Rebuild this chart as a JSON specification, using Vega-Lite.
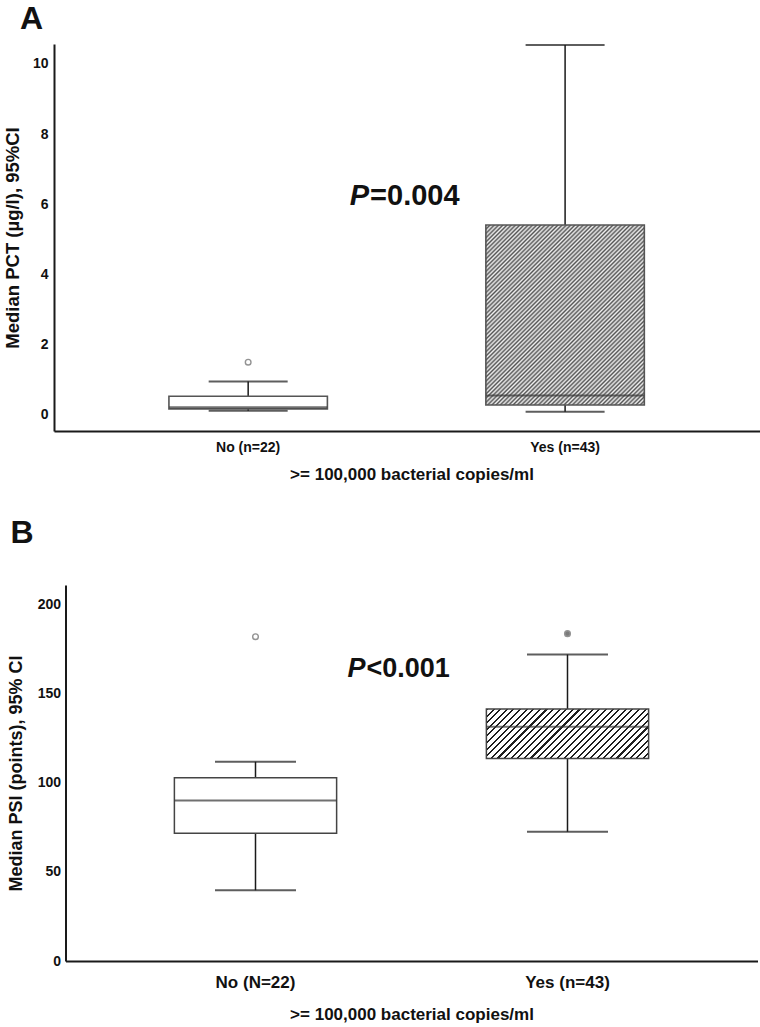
{
  "$schema": "https://vega.github.io/schema/vega-lite/v6.json",
  "background": "white",
  "padding": {"left": 3, "top": 3, "right": 4, "bottom": 2},
  "config": {
    "view": {"stroke": null},
    "font": "Liberation Sans",
    "axis": {"domainColor": "#1a1a1a", "domainWidth": 2, "ticks": false, "grid": false, "labelColor": "#111", "labelFontWeight": "bold", "titleFontWeight": "bold", "titleColor": "#111", "labelFont": "Liberation Sans", "titleFont": "Liberation Sans"},
    "title": {"fontSize": 32, "fontWeight": "bold", "anchor": "start", "frame": "group", "color": "#111", "font": "Liberation Sans"}
  },
  "datasets": {
    "boxA": [
      {"group": "No (n=22)", "lower": 0.12, "q1": 0.17, "median": 0.22, "q3": 0.53, "upper": 0.95},
      {"group": "Yes (n=43)", "lower": 0.09, "q1": 0.28, "median": 0.55, "q3": 5.41, "upper": 10.54}
    ],
    "outA": [{"group": "No (n=22)", "value": 1.5}],
    "pA": [{"group": "Yes (n=43)", "y": 6.25, "p": "P", "rest": "=0.004"}],
    "boxB": [
      {"group": "No (N=22)", "lower": 39.7, "q1": 71.7, "median": 90.1, "q3": 102.8, "upper": 111.8},
      {"group": "Yes (n=43)", "lower": 72.5, "q1": 113.7, "median": 131.5, "q3": 141.4, "upper": 172}
    ],
    "outB": [{"group": "No (N=22)", "value": 182}, {"group": "Yes (n=43)", "value": 183.7}],
    "pB": [{"group": "Yes (n=43)", "y": 164, "p": "P", "rest": "<0.001"}]
  },
  "spacing": 35,
  "center": true,
  "vconcat": [
    {
      "width": 715,
      "height": 387,
      "title": {"text": "A", "dx": -34, "offset": 8},
      "encoding": {
        "x": {"field": "group", "type": "nominal", "sort": null,
          "scale": {"type": "band", "paddingInner": 0, "paddingOuter": 0.128, "align": 0.44},
          "axis": {"title": ">= 100,000 bacterial copies/ml", "labelAngle": 0, "labelFontSize": 14, "titleFontSize": 17, "labelPadding": 9, "titlePadding": 12}}
      },
      "layer": [
        {
          "data": {"name": "boxA"},
          "mark": {"type": "rule", "stroke": "#1a1a1a", "strokeWidth": 1.5},
          "encoding": {
            "y": {"field": "lower", "type": "quantitative", "title": "Median PCT (µg/l), 95%CI",
              "scale": {"domain": [-0.46, 10.57], "nice": false, "zero": false},
              "axis": {"values": [0, 2, 4, 6, 8, 10], "labelFontSize": 14, "titleFontSize": 18.5, "labelPadding": 6, "titlePadding": 10}},
            "y2": {"field": "upper"}
          }
        },
        {
          "data": {"name": "boxA"},
          "mark": {"type": "tick", "color": "#1a1a1a", "size": 79, "thickness": 2},
          "encoding": {"y": {"field": "lower", "type": "quantitative", "title": "Median PCT (µg/l), 95%CI", "scale": {"domain": [-0.46, 10.57], "nice": false, "zero": false}}}
        },
        {
          "data": {"name": "boxA"},
          "mark": {"type": "tick", "color": "#1a1a1a", "size": 79, "thickness": 2},
          "encoding": {"y": {"field": "upper", "type": "quantitative", "title": "Median PCT (µg/l), 95%CI", "scale": {"domain": [-0.46, 10.57], "nice": false, "zero": false}}}
        },
        {
          "data": {"name": "boxA"},
          "transform": [{"filter": "datum.group === 'No (n=22)'"}],
          "mark": {"type": "bar", "fill": "white", "stroke": "#555", "strokeWidth": 1.6, "width": {"band": 0.5}},
          "encoding": {
            "y": {"field": "q1", "type": "quantitative", "title": "Median PCT (µg/l), 95%CI", "scale": {"domain": [-0.46, 10.57], "nice": false, "zero": false}},
            "y2": {"field": "q3"}
          }
        },
        {
          "data": {"name": "boxA"},
          "transform": [{"filter": "datum.group === 'Yes (n=43)'"}],
          "mark": {"type": "bar", "stroke": "#555", "strokeWidth": 1.6, "width": {"band": 0.5},
            "fill": {"gradient": "linear", "x1": 0, "y1": 0, "x2": 0.931, "y2": 1.061, "stops": [
              {"offset": 0, "color": "#555"}, {"offset": 0.00625, "color": "#f0f0f0"}, {"offset": 0.0125, "color": "#555"}, {"offset": 0.01875, "color": "#f0f0f0"}, {"offset": 0.025, "color": "#555"}, {"offset": 0.03125, "color": "#f0f0f0"}, {"offset": 0.0375, "color": "#555"}, {"offset": 0.04375, "color": "#f0f0f0"},
              {"offset": 0.05, "color": "#555"}, {"offset": 0.05625, "color": "#f0f0f0"}, {"offset": 0.0625, "color": "#555"}, {"offset": 0.06875, "color": "#f0f0f0"}, {"offset": 0.075, "color": "#555"}, {"offset": 0.08125, "color": "#f0f0f0"}, {"offset": 0.0875, "color": "#555"}, {"offset": 0.09375, "color": "#f0f0f0"},
              {"offset": 0.1, "color": "#555"}, {"offset": 0.10625, "color": "#f0f0f0"}, {"offset": 0.1125, "color": "#555"}, {"offset": 0.11875, "color": "#f0f0f0"}, {"offset": 0.125, "color": "#555"}, {"offset": 0.13125, "color": "#f0f0f0"}, {"offset": 0.1375, "color": "#555"}, {"offset": 0.14375, "color": "#f0f0f0"},
              {"offset": 0.15, "color": "#555"}, {"offset": 0.15625, "color": "#f0f0f0"}, {"offset": 0.1625, "color": "#555"}, {"offset": 0.16875, "color": "#f0f0f0"}, {"offset": 0.175, "color": "#555"}, {"offset": 0.18125, "color": "#f0f0f0"}, {"offset": 0.1875, "color": "#555"}, {"offset": 0.19375, "color": "#f0f0f0"},
              {"offset": 0.2, "color": "#555"}, {"offset": 0.20625, "color": "#f0f0f0"}, {"offset": 0.2125, "color": "#555"}, {"offset": 0.21875, "color": "#f0f0f0"}, {"offset": 0.225, "color": "#555"}, {"offset": 0.23125, "color": "#f0f0f0"}, {"offset": 0.2375, "color": "#555"}, {"offset": 0.24375, "color": "#f0f0f0"},
              {"offset": 0.25, "color": "#555"}, {"offset": 0.25625, "color": "#f0f0f0"}, {"offset": 0.2625, "color": "#555"}, {"offset": 0.26875, "color": "#f0f0f0"}, {"offset": 0.275, "color": "#555"}, {"offset": 0.28125, "color": "#f0f0f0"}, {"offset": 0.2875, "color": "#555"}, {"offset": 0.29375, "color": "#f0f0f0"},
              {"offset": 0.3, "color": "#555"}, {"offset": 0.30625, "color": "#f0f0f0"}, {"offset": 0.3125, "color": "#555"}, {"offset": 0.31875, "color": "#f0f0f0"}, {"offset": 0.325, "color": "#555"}, {"offset": 0.33125, "color": "#f0f0f0"}, {"offset": 0.3375, "color": "#555"}, {"offset": 0.34375, "color": "#f0f0f0"},
              {"offset": 0.35, "color": "#555"}, {"offset": 0.35625, "color": "#f0f0f0"}, {"offset": 0.3625, "color": "#555"}, {"offset": 0.36875, "color": "#f0f0f0"}, {"offset": 0.375, "color": "#555"}, {"offset": 0.38125, "color": "#f0f0f0"}, {"offset": 0.3875, "color": "#555"}, {"offset": 0.39375, "color": "#f0f0f0"},
              {"offset": 0.4, "color": "#555"}, {"offset": 0.40625, "color": "#f0f0f0"}, {"offset": 0.4125, "color": "#555"}, {"offset": 0.41875, "color": "#f0f0f0"}, {"offset": 0.425, "color": "#555"}, {"offset": 0.43125, "color": "#f0f0f0"}, {"offset": 0.4375, "color": "#555"}, {"offset": 0.44375, "color": "#f0f0f0"},
              {"offset": 0.45, "color": "#555"}, {"offset": 0.45625, "color": "#f0f0f0"}, {"offset": 0.4625, "color": "#555"}, {"offset": 0.46875, "color": "#f0f0f0"}, {"offset": 0.475, "color": "#555"}, {"offset": 0.48125, "color": "#f0f0f0"}, {"offset": 0.4875, "color": "#555"}, {"offset": 0.49375, "color": "#f0f0f0"},
              {"offset": 0.5, "color": "#555"}, {"offset": 0.50625, "color": "#f0f0f0"}, {"offset": 0.5125, "color": "#555"}, {"offset": 0.51875, "color": "#f0f0f0"}, {"offset": 0.525, "color": "#555"}, {"offset": 0.53125, "color": "#f0f0f0"}, {"offset": 0.5375, "color": "#555"}, {"offset": 0.54375, "color": "#f0f0f0"},
              {"offset": 0.55, "color": "#555"}, {"offset": 0.55625, "color": "#f0f0f0"}, {"offset": 0.5625, "color": "#555"}, {"offset": 0.56875, "color": "#f0f0f0"}, {"offset": 0.575, "color": "#555"}, {"offset": 0.58125, "color": "#f0f0f0"}, {"offset": 0.5875, "color": "#555"}, {"offset": 0.59375, "color": "#f0f0f0"},
              {"offset": 0.6, "color": "#555"}, {"offset": 0.60625, "color": "#f0f0f0"}, {"offset": 0.6125, "color": "#555"}, {"offset": 0.61875, "color": "#f0f0f0"}, {"offset": 0.625, "color": "#555"}, {"offset": 0.63125, "color": "#f0f0f0"}, {"offset": 0.6375, "color": "#555"}, {"offset": 0.64375, "color": "#f0f0f0"},
              {"offset": 0.65, "color": "#555"}, {"offset": 0.65625, "color": "#f0f0f0"}, {"offset": 0.6625, "color": "#555"}, {"offset": 0.66875, "color": "#f0f0f0"}, {"offset": 0.675, "color": "#555"}, {"offset": 0.68125, "color": "#f0f0f0"}, {"offset": 0.6875, "color": "#555"}, {"offset": 0.69375, "color": "#f0f0f0"},
              {"offset": 0.7, "color": "#555"}, {"offset": 0.70625, "color": "#f0f0f0"}, {"offset": 0.7125, "color": "#555"}, {"offset": 0.71875, "color": "#f0f0f0"}, {"offset": 0.725, "color": "#555"}, {"offset": 0.73125, "color": "#f0f0f0"}, {"offset": 0.7375, "color": "#555"}, {"offset": 0.74375, "color": "#f0f0f0"},
              {"offset": 0.75, "color": "#555"}, {"offset": 0.75625, "color": "#f0f0f0"}, {"offset": 0.7625, "color": "#555"}, {"offset": 0.76875, "color": "#f0f0f0"}, {"offset": 0.775, "color": "#555"}, {"offset": 0.78125, "color": "#f0f0f0"}, {"offset": 0.7875, "color": "#555"}, {"offset": 0.79375, "color": "#f0f0f0"},
              {"offset": 0.8, "color": "#555"}, {"offset": 0.80625, "color": "#f0f0f0"}, {"offset": 0.8125, "color": "#555"}, {"offset": 0.81875, "color": "#f0f0f0"}, {"offset": 0.825, "color": "#555"}, {"offset": 0.83125, "color": "#f0f0f0"}, {"offset": 0.8375, "color": "#555"}, {"offset": 0.84375, "color": "#f0f0f0"},
              {"offset": 0.85, "color": "#555"}, {"offset": 0.85625, "color": "#f0f0f0"}, {"offset": 0.8625, "color": "#555"}, {"offset": 0.86875, "color": "#f0f0f0"}, {"offset": 0.875, "color": "#555"}, {"offset": 0.88125, "color": "#f0f0f0"}, {"offset": 0.8875, "color": "#555"}, {"offset": 0.89375, "color": "#f0f0f0"},
              {"offset": 0.9, "color": "#555"}, {"offset": 0.90625, "color": "#f0f0f0"}, {"offset": 0.9125, "color": "#555"}, {"offset": 0.91875, "color": "#f0f0f0"}, {"offset": 0.925, "color": "#555"}, {"offset": 0.93125, "color": "#f0f0f0"}, {"offset": 0.9375, "color": "#555"}, {"offset": 0.94375, "color": "#f0f0f0"},
              {"offset": 0.95, "color": "#555"}, {"offset": 0.95625, "color": "#f0f0f0"}, {"offset": 0.9625, "color": "#555"}, {"offset": 0.96875, "color": "#f0f0f0"}, {"offset": 0.975, "color": "#555"}, {"offset": 0.98125, "color": "#f0f0f0"}, {"offset": 0.9875, "color": "#555"}, {"offset": 0.99375, "color": "#f0f0f0"},
              {"offset": 1, "color": "#555"}
            ]}},
          "encoding": {
            "y": {"field": "q1", "type": "quantitative", "title": "Median PCT (µg/l), 95%CI", "scale": {"domain": [-0.46, 10.57], "nice": false, "zero": false}},
            "y2": {"field": "q3"}
          }
        },
        {
          "data": {"name": "boxA"},
          "mark": {"type": "tick", "color": "#333", "size": 158, "thickness": 2},
          "encoding": {"y": {"field": "median", "type": "quantitative", "title": "Median PCT (µg/l), 95%CI", "scale": {"domain": [-0.46, 10.57], "nice": false, "zero": false}}}
        },
        {
          "data": {"name": "outA"},
          "mark": {"type": "point", "shape": "circle", "size": 32, "filled": false, "stroke": "#666", "strokeWidth": 1.4},
          "encoding": {"y": {"field": "value", "type": "quantitative", "title": "Median PCT (µg/l), 95%CI", "scale": {"domain": [-0.46, 10.57], "nice": false, "zero": false}}}
        },
        {
          "data": {"name": "pA"},
          "mark": {"type": "text", "fontSize": 29, "fontWeight": "bold", "fontStyle": "italic", "align": "right", "baseline": "middle", "dx": -196, "color": "#111"},
          "encoding": {"y": {"field": "y", "type": "quantitative", "title": "Median PCT (µg/l), 95%CI", "scale": {"domain": [-0.46, 10.57], "nice": false, "zero": false}}, "text": {"field": "p"}}
        },
        {
          "data": {"name": "pA"},
          "mark": {"type": "text", "fontSize": 29, "fontWeight": "bold", "align": "left", "baseline": "middle", "dx": -195, "color": "#111"},
          "encoding": {"y": {"field": "y", "type": "quantitative", "title": "Median PCT (µg/l), 95%CI", "scale": {"domain": [-0.46, 10.57], "nice": false, "zero": false}}, "text": {"field": "rest"}}
        }
      ]
    },
    {
      "width": 692,
      "height": 376,
      "title": {"text": "B", "dx": -55, "offset": 35},
      "encoding": {
        "x": {"field": "group", "type": "nominal", "sort": null,
          "scale": {"type": "band", "paddingInner": 0, "paddingOuter": 0.109},
          "axis": {"title": ">= 100,000 bacterial copies/ml", "labelAngle": 0, "labelFontSize": 17, "titleFontSize": 17, "labelPadding": 13, "titlePadding": 16}}
      },
      "layer": [
        {
          "data": {"name": "boxB"},
          "mark": {"type": "rule", "stroke": "#1a1a1a", "strokeWidth": 1.5},
          "encoding": {
            "y": {"field": "lower", "type": "quantitative", "title": "Median PSI (points), 95% CI",
              "scale": {"domain": [0, 211], "nice": false, "zero": false},
              "axis": {"values": [0, 50, 100, 150, 200], "labelFontSize": 14, "titleFontSize": 18, "labelPadding": 5, "titlePadding": 12}},
            "y2": {"field": "upper"}
          }
        },
        {
          "data": {"name": "boxB"},
          "mark": {"type": "tick", "color": "#1a1a1a", "size": 81, "thickness": 2},
          "encoding": {"y": {"field": "lower", "type": "quantitative", "title": "Median PSI (points), 95% CI", "scale": {"domain": [0, 211], "nice": false, "zero": false}}}
        },
        {
          "data": {"name": "boxB"},
          "mark": {"type": "tick", "color": "#1a1a1a", "size": 81, "thickness": 2},
          "encoding": {"y": {"field": "upper", "type": "quantitative", "title": "Median PSI (points), 95% CI", "scale": {"domain": [0, 211], "nice": false, "zero": false}}}
        },
        {
          "data": {"name": "boxB"},
          "transform": [{"filter": "datum.group === 'No (N=22)'"}],
          "mark": {"type": "bar", "fill": "white", "stroke": "#444", "strokeWidth": 1.5, "width": {"band": 0.52}},
          "encoding": {
            "y": {"field": "q1", "type": "quantitative", "title": "Median PSI (points), 95% CI", "scale": {"domain": [0, 211], "nice": false, "zero": false}},
            "y2": {"field": "q3"}
          }
        },
        {
          "data": {"name": "boxB"},
          "transform": [{"filter": "datum.group === 'Yes (n=43)'"}],
          "mark": {"type": "bar", "stroke": "#444", "strokeWidth": 1.5, "width": {"band": 0.52},
            "fill": {"gradient": "linear", "x1": 0, "y1": 0, "x2": 1.1937, "y2": 0.3633, "stops": [
              {"offset": 0, "color": "#1e1e1e"}, {"offset": 0.01, "color": "#1e1e1e"}, {"offset": 0.01, "color": "#ffffff"}, {"offset": 0.03125, "color": "#ffffff"},
              {"offset": 0.03125, "color": "#1e1e1e"}, {"offset": 0.04125, "color": "#1e1e1e"}, {"offset": 0.04125, "color": "#ffffff"}, {"offset": 0.0625, "color": "#ffffff"},
              {"offset": 0.0625, "color": "#1e1e1e"}, {"offset": 0.0725, "color": "#1e1e1e"}, {"offset": 0.0725, "color": "#ffffff"}, {"offset": 0.09375, "color": "#ffffff"},
              {"offset": 0.09375, "color": "#1e1e1e"}, {"offset": 0.10375, "color": "#1e1e1e"}, {"offset": 0.10375, "color": "#ffffff"}, {"offset": 0.125, "color": "#ffffff"},
              {"offset": 0.125, "color": "#1e1e1e"}, {"offset": 0.135, "color": "#1e1e1e"}, {"offset": 0.135, "color": "#ffffff"}, {"offset": 0.15625, "color": "#ffffff"},
              {"offset": 0.15625, "color": "#1e1e1e"}, {"offset": 0.16625, "color": "#1e1e1e"}, {"offset": 0.16625, "color": "#ffffff"}, {"offset": 0.1875, "color": "#ffffff"},
              {"offset": 0.1875, "color": "#1e1e1e"}, {"offset": 0.1975, "color": "#1e1e1e"}, {"offset": 0.1975, "color": "#ffffff"}, {"offset": 0.21875, "color": "#ffffff"},
              {"offset": 0.21875, "color": "#1e1e1e"}, {"offset": 0.22875, "color": "#1e1e1e"}, {"offset": 0.22875, "color": "#ffffff"}, {"offset": 0.25, "color": "#ffffff"},
              {"offset": 0.25, "color": "#1e1e1e"}, {"offset": 0.26, "color": "#1e1e1e"}, {"offset": 0.26, "color": "#ffffff"}, {"offset": 0.28125, "color": "#ffffff"},
              {"offset": 0.28125, "color": "#1e1e1e"}, {"offset": 0.29125, "color": "#1e1e1e"}, {"offset": 0.29125, "color": "#ffffff"}, {"offset": 0.3125, "color": "#ffffff"},
              {"offset": 0.3125, "color": "#1e1e1e"}, {"offset": 0.3225, "color": "#1e1e1e"}, {"offset": 0.3225, "color": "#ffffff"}, {"offset": 0.34375, "color": "#ffffff"},
              {"offset": 0.34375, "color": "#1e1e1e"}, {"offset": 0.35375, "color": "#1e1e1e"}, {"offset": 0.35375, "color": "#ffffff"}, {"offset": 0.375, "color": "#ffffff"},
              {"offset": 0.375, "color": "#1e1e1e"}, {"offset": 0.385, "color": "#1e1e1e"}, {"offset": 0.385, "color": "#ffffff"}, {"offset": 0.40625, "color": "#ffffff"},
              {"offset": 0.40625, "color": "#1e1e1e"}, {"offset": 0.41625, "color": "#1e1e1e"}, {"offset": 0.41625, "color": "#ffffff"}, {"offset": 0.4375, "color": "#ffffff"},
              {"offset": 0.4375, "color": "#1e1e1e"}, {"offset": 0.4475, "color": "#1e1e1e"}, {"offset": 0.4475, "color": "#ffffff"}, {"offset": 0.46875, "color": "#ffffff"},
              {"offset": 0.46875, "color": "#1e1e1e"}, {"offset": 0.47875, "color": "#1e1e1e"}, {"offset": 0.47875, "color": "#ffffff"}, {"offset": 0.5, "color": "#ffffff"},
              {"offset": 0.5, "color": "#1e1e1e"}, {"offset": 0.51, "color": "#1e1e1e"}, {"offset": 0.51, "color": "#ffffff"}, {"offset": 0.53125, "color": "#ffffff"},
              {"offset": 0.53125, "color": "#1e1e1e"}, {"offset": 0.54125, "color": "#1e1e1e"}, {"offset": 0.54125, "color": "#ffffff"}, {"offset": 0.5625, "color": "#ffffff"},
              {"offset": 0.5625, "color": "#1e1e1e"}, {"offset": 0.5725, "color": "#1e1e1e"}, {"offset": 0.5725, "color": "#ffffff"}, {"offset": 0.59375, "color": "#ffffff"},
              {"offset": 0.59375, "color": "#1e1e1e"}, {"offset": 0.60375, "color": "#1e1e1e"}, {"offset": 0.60375, "color": "#ffffff"}, {"offset": 0.625, "color": "#ffffff"},
              {"offset": 0.625, "color": "#1e1e1e"}, {"offset": 0.635, "color": "#1e1e1e"}, {"offset": 0.635, "color": "#ffffff"}, {"offset": 0.65625, "color": "#ffffff"},
              {"offset": 0.65625, "color": "#1e1e1e"}, {"offset": 0.66625, "color": "#1e1e1e"}, {"offset": 0.66625, "color": "#ffffff"}, {"offset": 0.6875, "color": "#ffffff"},
              {"offset": 0.6875, "color": "#1e1e1e"}, {"offset": 0.6975, "color": "#1e1e1e"}, {"offset": 0.6975, "color": "#ffffff"}, {"offset": 0.71875, "color": "#ffffff"},
              {"offset": 0.71875, "color": "#1e1e1e"}, {"offset": 0.72875, "color": "#1e1e1e"}, {"offset": 0.72875, "color": "#ffffff"}, {"offset": 0.75, "color": "#ffffff"},
              {"offset": 0.75, "color": "#1e1e1e"}, {"offset": 0.76, "color": "#1e1e1e"}, {"offset": 0.76, "color": "#ffffff"}, {"offset": 0.78125, "color": "#ffffff"},
              {"offset": 0.78125, "color": "#1e1e1e"}, {"offset": 0.79125, "color": "#1e1e1e"}, {"offset": 0.79125, "color": "#ffffff"}, {"offset": 0.8125, "color": "#ffffff"},
              {"offset": 0.8125, "color": "#1e1e1e"}, {"offset": 0.8225, "color": "#1e1e1e"}, {"offset": 0.8225, "color": "#ffffff"}, {"offset": 0.84375, "color": "#ffffff"},
              {"offset": 0.84375, "color": "#1e1e1e"}, {"offset": 0.85375, "color": "#1e1e1e"}, {"offset": 0.85375, "color": "#ffffff"}, {"offset": 0.875, "color": "#ffffff"},
              {"offset": 0.875, "color": "#1e1e1e"}, {"offset": 0.885, "color": "#1e1e1e"}, {"offset": 0.885, "color": "#ffffff"}, {"offset": 0.90625, "color": "#ffffff"},
              {"offset": 0.90625, "color": "#1e1e1e"}, {"offset": 0.91625, "color": "#1e1e1e"}, {"offset": 0.91625, "color": "#ffffff"}, {"offset": 0.9375, "color": "#ffffff"},
              {"offset": 0.9375, "color": "#1e1e1e"}, {"offset": 0.9475, "color": "#1e1e1e"}, {"offset": 0.9475, "color": "#ffffff"}, {"offset": 0.96875, "color": "#ffffff"},
              {"offset": 0.96875, "color": "#1e1e1e"}, {"offset": 0.97875, "color": "#1e1e1e"}, {"offset": 0.97875, "color": "#ffffff"}, {"offset": 1, "color": "#ffffff"}
            ]}},
          "encoding": {
            "y": {"field": "q1", "type": "quantitative", "title": "Median PSI (points), 95% CI", "scale": {"domain": [0, 211], "nice": false, "zero": false}},
            "y2": {"field": "q3"}
          }
        },
        {
          "data": {"name": "boxB"},
          "mark": {"type": "tick", "color": "#333", "size": 162, "thickness": 2},
          "encoding": {"y": {"field": "median", "type": "quantitative", "title": "Median PSI (points), 95% CI", "scale": {"domain": [0, 211], "nice": false, "zero": false}}}
        },
        {
          "data": {"name": "outB"},
          "mark": {"type": "point", "shape": "circle", "size": 32, "stroke": "#666", "strokeWidth": 1.4, "filled": false},
          "encoding": {
            "y": {"field": "value", "type": "quantitative", "title": "Median PSI (points), 95% CI", "scale": {"domain": [0, 211], "nice": false, "zero": false}},
            "fill": {"condition": {"test": "datum.group === 'Yes (n=43)'", "value": "#444"}, "value": "white"}
          }
        },
        {
          "data": {"name": "pB"},
          "mark": {"type": "text", "fontSize": 27, "fontWeight": "bold", "fontStyle": "italic", "align": "right", "baseline": "middle", "dx": -202, "color": "#111"},
          "encoding": {"y": {"field": "y", "type": "quantitative", "title": "Median PSI (points), 95% CI", "scale": {"domain": [0, 211], "nice": false, "zero": false}}, "text": {"field": "p"}}
        },
        {
          "data": {"name": "pB"},
          "mark": {"type": "text", "fontSize": 27, "fontWeight": "bold", "align": "left", "baseline": "middle", "dx": -201, "color": "#111"},
          "encoding": {"y": {"field": "y", "type": "quantitative", "title": "Median PSI (points), 95% CI", "scale": {"domain": [0, 211], "nice": false, "zero": false}}, "text": {"field": "rest"}}
        }
      ]
    }
  ]
}
